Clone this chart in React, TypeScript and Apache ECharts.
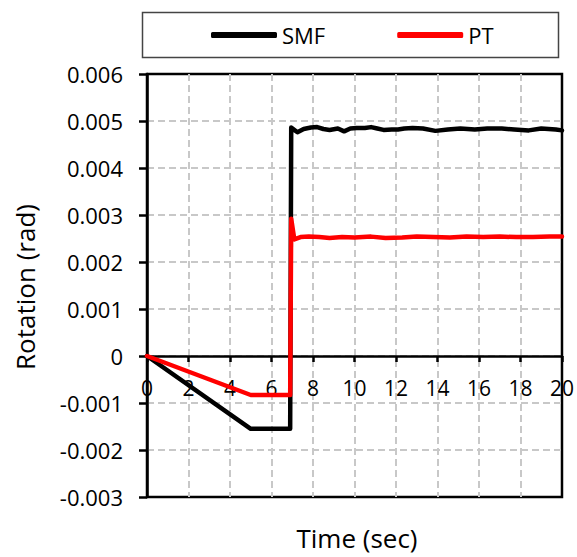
import React, { useEffect, useRef } from "react";
import * as echarts from "echarts";

const seriesNames = ["SMF", "PT"];
const xTicks = { min: 0, max: 20, interval: 2 };
const yTicks = { min: -0.003, max: 0.006, interval: 0.001 };

const smfTime = [0, 5, 6.9, 6.95, 7.25, 7.55, 7.9, 8.2, 8.5, 8.8, 9.2, 9.5, 9.8, 10.1, 10.5, 10.8, 11.1, 11.4, 11.8, 12.1, 12.4, 12.8, 13.3, 13.9, 14.5, 15.1, 15.8, 16.4, 17.1, 17.7, 18.4, 19.0, 19.7, 20];
const smfValues = [0, -0.00155, -0.00155, 0.00486, 0.00476, 0.00483, 0.00486, 0.00487, 0.00483, 0.00481, 0.00484, 0.00478, 0.00484, 0.00485, 0.00485, 0.00487, 0.00484, 0.00481, 0.00482, 0.00482, 0.00484, 0.00485, 0.00484, 0.00479, 0.00482, 0.00484, 0.00482, 0.00484, 0.00484, 0.00482, 0.0048, 0.00484, 0.00482, 0.0048];

const ptTime = [0, 5, 6.9, 6.95, 7.1, 7.4, 7.8, 8.3, 8.8, 9.4, 10, 10.8, 11.5, 12.3, 13, 13.8, 14.6, 15.4, 16.2, 17, 17.8, 18.6, 19.4, 20];
const ptValues = [0, -0.00083, -0.00083, 0.00292, 0.00248, 0.00253, 0.00254, 0.00253, 0.00251, 0.00253, 0.00252, 0.00254, 0.00251, 0.00252, 0.00254, 0.00253, 0.00252, 0.00254, 0.00253, 0.00254, 0.00253, 0.00253, 0.00254, 0.00254];

const FONT = "'Open Sans', 'Noto Sans', sans-serif";

export default function App() {
  const ref = useRef<HTMLDivElement>(null);
  useEffect(() => {
    document.body.style.margin = "0";
    if (!ref.current) return;
    const chart = echarts.init(ref.current, null, { renderer: "svg" });
    const smf = smfTime.map((t, i) => [t, smfValues[i]]);
    const pt = ptTime.map((t, i) => [t, ptValues[i]]);
    const gridTop = 74;
    const gridBottom = 60;
    const plotH = 557 - gridTop - gridBottom;
    const zeroOffset = -Math.round((plotH * (0 - yTicks.min)) / (yTicks.max - yTicks.min));
    chart.setOption({
      animation: false,
      backgroundColor: "#fff",
      textStyle: { fontFamily: FONT },
      grid: {
        left: 147,
        right: 11,
        top: gridTop,
        bottom: gridBottom,
        show: true,
        borderColor: "#000",
        borderWidth: 2.5,
        backgroundColor: "transparent",
      },
      legend: {
        left: 211,
        top: 24,
        padding: 0,
        itemWidth: 66,
        itemHeight: 6,
        itemGap: 72,
        icon: "roundRect",
        textStyle: { fontFamily: FONT, fontSize: 22, color: "#000" },
        data: seriesNames,
      },
      graphic: [
        {
          type: "rect",
          shape: { x: 142.5, y: 12.5, width: 416, height: 45 },
          style: { fill: "none", stroke: "#444", lineWidth: 1.5 },
          z: -1,
        },
        {
          type: "text",
          x: 25,
          y: 287,
          rotation: Math.PI / 2,
          style: {
            text: "Rotation (rad)",
            font: `26px ${FONT}`,
            fill: "#000",
            align: "center",
            verticalAlign: "middle",
          },
        },
        {
          type: "text",
          x: 357,
          y: 538,
          style: {
            text: "Time (sec)",
            font: `26px ${FONT}`,
            fill: "#000",
            align: "center",
            verticalAlign: "middle",
          },
        },
      ],
      xAxis: {
        type: "value",
        min: xTicks.min,
        max: xTicks.max,
        interval: xTicks.interval,
        position: "bottom",
        offset: zeroOffset,
        axisLine: { show: true, onZero: false, lineStyle: { color: "#000", width: 2.5 } },
        axisTick: { show: true, inside: false, length: 6, lineStyle: { color: "#000", width: 2.5 } },
        axisLabel: { fontSize: 21, color: "#000", margin: 21, fontFamily: FONT },
        splitLine: {
          show: true,
          showMinLine: false,
          showMaxLine: false,
          lineStyle: { color: "#c8c8c8", width: 2, type: [7, 4] },
        },
      },
      yAxis: {
        type: "value",
        min: yTicks.min,
        max: yTicks.max,
        interval: yTicks.interval,
        axisLine: { show: true, onZero: false, lineStyle: { color: "#000", width: 2.5 } },
        axisTick: { show: true, inside: false, length: 8, lineStyle: { color: "#000", width: 2.5 } },
        axisLabel: {
          fontSize: 22,
          color: "#000",
          margin: 24,
          fontFamily: FONT,
          formatter: (v: number) => (Math.abs(v) < 1e-9 ? "0" : v.toFixed(3)),
        },
        splitLine: {
          show: true,
          showMinLine: false,
          showMaxLine: false,
          lineStyle: { color: "#c8c8c8", width: 2, type: [7, 4] },
        },
      },
      series: [
        {
          name: seriesNames[0],
          type: "line",
          data: smf,
          showSymbol: false,
          symbol: "none",
          color: "#000",
          lineStyle: { color: "#000", width: 4.5, join: "round", cap: "round" },
          z: 3,
        },
        {
          name: seriesNames[1],
          type: "line",
          data: pt,
          showSymbol: false,
          symbol: "none",
          color: "#ff0000",
          lineStyle: { color: "#ff0000", width: 4.5, join: "round", cap: "round" },
          z: 4,
        },
      ],
    });
    return () => chart.dispose();
  }, []);
  return <div ref={ref} style={{ width: 577, height: 557 }} />;
}
